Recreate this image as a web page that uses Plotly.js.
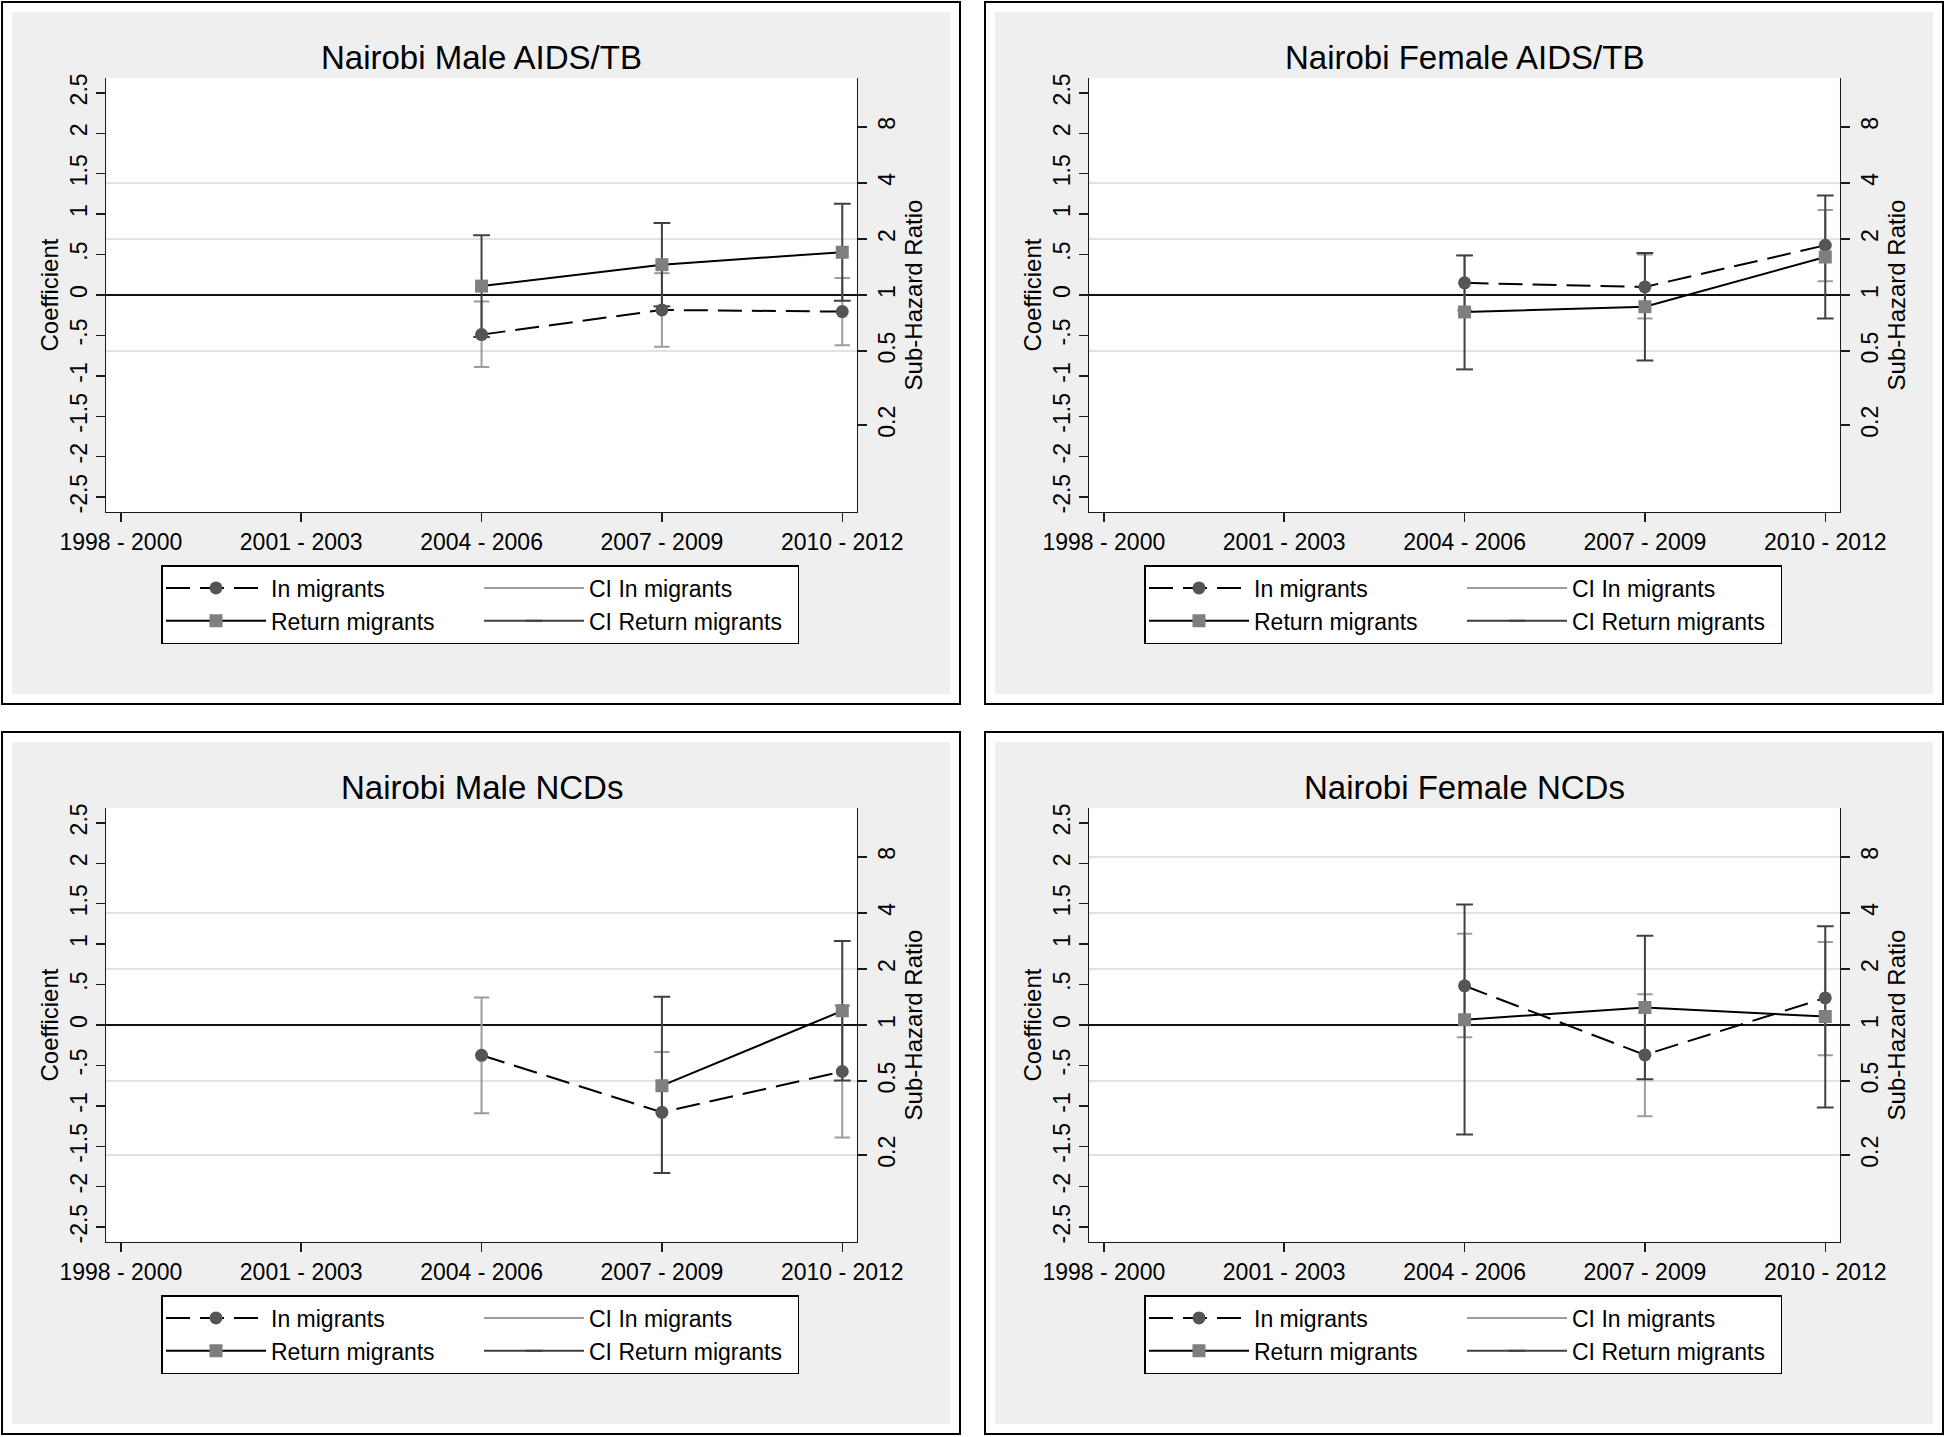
<!DOCTYPE html>
<html><head><meta charset="utf-8">
<script src="https://cdn.plot.ly/plotly-3.0.1.min.js"></script>
<style>html,body{margin:0;padding:0;background:#fff}#chart{width:1946px;height:1437px}</style>
</head><body><div id="chart"></div>
<script>
// ---------- data ----------
const periods = ['1998 - 2000', '2001 - 2003', '2004 - 2006', '2007 - 2009', '2010 - 2012'];
const dataPeriods = ['2004 - 2006', '2007 - 2009', '2010 - 2012'];
const coefTicks = [-2.5, -2, -1.5, -1, -0.5, 0, 0.5, 1, 1.5, 2, 2.5];
const coefTickText = ['-2.5', '-2', '-1.5', '-1', '-.5', '0', '.5', '1', '1.5', '2', '2.5'];
const shrTicks = [0.2, 0.5, 1, 2, 4, 8];
const shrTickText = ['0.2', '0.5', '1', '2', '4', '8'];
const panelTitles = ['Nairobi Male AIDS/TB', 'Nairobi Female AIDS/TB', 'Nairobi Male NCDs', 'Nairobi Female NCDs'];
const seriesNames = ['In migrants', 'Return migrants', 'CI In migrants', 'CI Return migrants'];

// Nairobi Male AIDS/TB
const maleAidsIn = [-0.49, -0.185, -0.205];
const maleAidsInLo = [-0.89, -0.64, -0.62];
const maleAidsInHi = [-0.08, 0.27, 0.21];
const maleAidsRet = [0.11, 0.375, 0.53];
const maleAidsRetLo = [-0.52, -0.14, -0.07];
const maleAidsRetHi = [0.74, 0.89, 1.13];
const maleAidsGrid = [0.5, 2, 4];

// Nairobi Female AIDS/TB
const femaleAidsIn = [0.15, 0.10, 0.615];
const femaleAidsInLo = [-0.19, -0.29, 0.17];
const femaleAidsInHi = [0.49, 0.50, 1.05];
const femaleAidsRet = [-0.21, -0.145, 0.47];
const femaleAidsRetLo = [-0.92, -0.81, -0.29];
const femaleAidsRetHi = [0.49, 0.52, 1.23];
const femaleAidsGrid = [0.5, 2, 4];

// Nairobi Male NCDs
const maleNcdIn = [-0.375, -1.08, -0.575];
const maleNcdInLo = [-1.09, -1.83, -1.39];
const maleNcdInHi = [0.34, -0.335, 0.24];
const maleNcdRet = [null, -0.75, 0.175];
const maleNcdRetLo = [null, -1.83, -0.685];
const maleNcdRetHi = [null, 0.35, 1.04];
const maleNcdGrid = [0.2, 0.5, 2, 4];

// Nairobi Female NCDs
const femaleNcdIn = [0.485, -0.37, 0.335];
const femaleNcdInLo = [-0.15, -1.13, -0.375];
const femaleNcdInHi = [1.13, 0.38, 1.025];
const femaleNcdRet = [0.065, 0.215, 0.105];
const femaleNcdRetLo = [-1.355, -0.67, -1.02];
const femaleNcdRetHi = [1.49, 1.105, 1.22];
const femaleNcdGrid = [0.2, 0.5, 2, 4, 8];

const panels = [
  {inM: maleAidsIn, inLo: maleAidsInLo, inHi: maleAidsInHi, ret: maleAidsRet, retLo: maleAidsRetLo, retHi: maleAidsRetHi, grid: maleAidsGrid},
  {inM: femaleAidsIn, inLo: femaleAidsInLo, inHi: femaleAidsInHi, ret: femaleAidsRet, retLo: femaleAidsRetLo, retHi: femaleAidsRetHi, grid: femaleAidsGrid},
  {inM: maleNcdIn, inLo: maleNcdInLo, inHi: maleNcdInHi, ret: maleNcdRet, retLo: maleNcdRetLo, retHi: maleNcdRetHi, grid: maleNcdGrid},
  {inM: femaleNcdIn, inLo: femaleNcdInLo, inHi: femaleNcdInHi, ret: femaleNcdRet, retLo: femaleNcdRetLo, retHi: femaleNcdRetHi, grid: femaleNcdGrid}
];

// ---------- geometry / style ----------
const W = 1946, H = 1437;
const PX = v => v / W;
const PY = v => 1 - v / H;
const offsets = [[0, 0], [983, 0], [0, 730], [983, 730]];
const box = {x0: 2, y0: 2, x1: 960, y1: 704};
const plotBox = {x0: 106.4, x1: 856.7, y0: 78.3, y1: 511.7};
const yRange = [-2.68, 2.68];
const xRange = [-0.08, 4.08];
const FONT = 'Liberation Sans, Arial, sans-serif';
const axisColor = '#1a1a1a';
const greyBg = '#efefef';

const traces = [];
const layout = {
  width: W, height: H,
  margin: {l: 0, r: 0, t: 0, b: 0},
  paper_bgcolor: '#ffffff', plot_bgcolor: '#ffffff',
  font: {family: FONT, color: '#000', size: 23},
  showlegend: true,
  shapes: [], annotations: []
};

function ciArrays(lo, hi) {
  const x = [], y = [];
  lo.forEach((v, i) => {
    if (v === null || hi[i] === null) return;
    x.push(dataPeriods[i], dataPeriods[i], null);
    y.push(v, hi[i], null);
  });
  return {x, y};
}

panels.forEach((p, k) => {
  const [dx, dy] = offsets[k];
  const xName = k === 0 ? 'x' : 'x' + (k + 1);
  const nL = 3 * k + 1, nR = 3 * k + 2, nG = 3 * k + 3;
  const yL = nL === 1 ? 'y' : 'y' + nL;
  const yR = 'y' + nR, yG = 'y' + nG;
  const legName = k === 0 ? 'legend' : 'legend' + (k + 1);
  const xDom = [PX(plotBox.x0 + dx), PX(plotBox.x1 + dx)];
  const yDom = [PY(plotBox.y1 + dy), PY(plotBox.y0 + dy)];

  const ciIn = ciArrays(p.inLo, p.inHi);
  const ciRet = ciArrays(p.retLo, p.retHi);

  traces.push({
    type: 'scatter', mode: 'lines+markers', name: seriesNames[2],
    x: ciIn.x, y: ciIn.y, xaxis: xName, yaxis: yL, legend: legName,
    legendgroup: 'ci' + k, legendrank: 3, connectgaps: false,
    line: {color: '#9c9c9c', width: 2},
    marker: {symbol: 'line-ew', size: 11, line: {color: '#9c9c9c', width: 2}},
    hoverinfo: 'skip'
  });
  traces.push({
    type: 'scatter', mode: 'lines+markers', name: seriesNames[3],
    x: ciRet.x, y: ciRet.y, xaxis: xName, yaxis: yL, legend: legName,
    legendgroup: 'ci' + k, legendrank: 4, connectgaps: false,
    line: {color: '#404040', width: 2},
    marker: {symbol: 'line-ew', size: 12, line: {color: '#404040', width: 2}},
    hoverinfo: 'skip'
  });
  traces.push({
    type: 'scatter', mode: 'lines+markers', name: seriesNames[0],
    x: dataPeriods, y: p.inM, xaxis: xName, yaxis: yL, legend: legName,
    legendgroup: 'est' + k, legendrank: 1,
    line: {color: '#000', width: 2, dash: '24px,10px'},
    marker: {symbol: 'circle', size: 13, color: '#555555'}
  });
  traces.push({
    type: 'scatter', mode: 'lines+markers', name: seriesNames[1],
    x: dataPeriods, y: p.ret, xaxis: xName, yaxis: yL, legend: legName,
    legendgroup: 'est' + k, legendrank: 2, connectgaps: false,
    line: {color: '#000', width: 2},
    marker: {symbol: 'square', size: 13, color: '#7f7f7f'}
  });
  // empty placeholders so that the overlaid right-hand and grid axes are drawn
  [yR, yG].forEach(ax => traces.push({
    type: 'scatter', mode: 'markers', x: dataPeriods, y: [null, null, null],
    xaxis: xName, yaxis: ax, showlegend: false, hoverinfo: 'skip', legend: legName
  }));

  layout[k === 0 ? 'xaxis' : 'xaxis' + (k + 1)] = {
    domain: xDom, anchor: yL, type: 'category', categoryorder: 'array', categoryarray: periods,
    range: xRange, showline: true, linecolor: axisColor, linewidth: 1.5,
    ticks: 'outside', ticklen: 9, tickwidth: 1.5, tickcolor: axisColor,
    tickfont: {size: 23, color: '#000'}, showgrid: false, zeroline: false, fixedrange: true
  };
  layout[nL === 1 ? 'yaxis' : 'yaxis' + nL] = {
    domain: yDom, anchor: xName, range: yRange, tickmode: 'array',
    tickvals: coefTicks, ticktext: coefTickText, tickangle: -90,
    ticks: 'outside', ticklen: 9, tickwidth: 1.5, tickcolor: axisColor,
    showline: true, linecolor: axisColor, linewidth: 1.5,
    showgrid: false, zeroline: true, zerolinecolor: '#111', zerolinewidth: 1.6,
    tickfont: {size: 23, color: '#000'},
    title: {text: 'Coefficient', font: {size: 24, color: '#000'}, standoff: 0},
    fixedrange: true
  };
  layout['yaxis' + nR] = {
    overlaying: yL, anchor: xName, side: 'right', range: yRange, tickmode: 'array',
    tickvals: shrTicks.map(v => Math.log(v)), ticktext: shrTickText, tickangle: -90,
    ticks: 'outside', ticklen: 9, tickwidth: 1.5, tickcolor: axisColor,
    showline: true, linecolor: axisColor, linewidth: 1.5,
    showgrid: false, zeroline: false,
    tickfont: {size: 23, color: '#000'},
    title: {text: 'Sub-Hazard Ratio', font: {size: 24, color: '#000'}, standoff: 0},
    fixedrange: true
  };
  layout['yaxis' + nG] = {
    overlaying: yL, anchor: xName, side: 'left', range: yRange, tickmode: 'array',
    tickvals: p.grid.map(v => Math.log(v)), showticklabels: false, ticks: '',
    showline: false, showgrid: true, gridcolor: '#e2e2e2', gridwidth: 2, zeroline: false,
    fixedrange: true
  };

  layout[legName] = {
    x: PX(161 + dx), y: PY(565 + dy), xanchor: 'left', yanchor: 'top',
    xref: 'paper', yref: 'paper',
    orientation: 'h', traceorder: 'grouped', tracegroupgap: 0,
    bgcolor: '#ffffff', bordercolor: '#000', borderwidth: 1.5,
    font: {size: 23, color: '#000', family: FONT},
    itemwidth: 100, entrywidth: 203, entrywidthmode: 'pixels',
    itemclick: false, itemdoubleclick: false
  };

  // panel frame: grey region with a hole for the plot area, then black border
  const gx0 = PX(box.x0 + 10 + dx), gx1 = PX(box.x1 - 10 + dx);
  const gy0 = PY(box.y0 + 10 + dy), gy1 = PY(box.y1 - 10 + dy);
  const ix0 = xDom[0], ix1 = xDom[1], iy0 = yDom[1], iy1 = yDom[0];
  layout.shapes.push({
    type: 'path', xref: 'paper', yref: 'paper', layer: 'below',
    path: `M${gx0},${gy0} H${gx1} V${gy1} H${gx0} Z M${ix0},${iy0} V${iy1} H${ix1} V${iy0} Z`,
    fillcolor: greyBg, line: {width: 0}
  });
  layout.shapes.push({
    type: 'rect', xref: 'paper', yref: 'paper', layer: 'above',
    x0: PX(box.x0 + dx), x1: PX(box.x1 + dx), y0: PY(box.y0 + dy), y1: PY(box.y1 + dy),
    line: {color: '#000', width: 2}, fillcolor: 'rgba(0,0,0,0)'
  });

  layout.annotations.push({
    text: panelTitles[k], xref: 'paper', yref: 'paper',
    x: (xDom[0] + xDom[1]) / 2, y: PY(57 + dy), xanchor: 'center', yanchor: 'middle',
    showarrow: false, font: {size: 33, color: '#000', family: FONT}
  });
});

Plotly.newPlot('chart', traces, layout, {staticPlot: true, displayModeBar: false});
</script>
</body></html>
